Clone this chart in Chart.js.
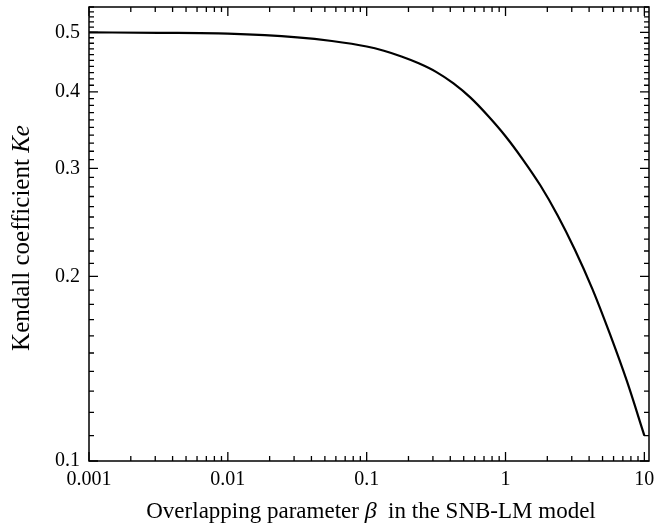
<!DOCTYPE html>
<html>
<head>
<meta charset="utf-8">
<script src="https://cdn.jsdelivr.net/npm/chart.js@4.4.0/dist/chart.umd.min.js"></script>
<style>
  html, body { margin: 0; padding: 0; background: #fff; }
  #wrap { width: 654px; height: 529px; }
</style>
</head>
<body>
<div id="wrap"><canvas id="kendallChart" width="654" height="529"></canvas></div>
<script>
// Kendall coefficient vs overlapping parameter (log-log)
const betaValues    = [0.001, 0.00316, 0.01, 0.0316, 0.0562, 0.1, 0.133, 0.178, 0.237, 0.316, 0.422, 0.562, 0.75,
                       1, 1.33, 1.78, 2.37, 3.16, 4.22, 5.62, 7.5, 10];
const kendallValues = [0.5000, 0.4992, 0.4976, 0.4908, 0.4841, 0.4742, 0.4666, 0.4567, 0.4452, 0.4311, 0.4128, 0.3910, 0.3653,
                       0.3386, 0.3105, 0.2816, 0.2517, 0.2211, 0.1909, 0.1616, 0.1348, 0.1100];

const xMajorTicks = [0.001, 0.01, 0.1, 1, 10];
const xTickLabels = ['0.001', '0.01', '0.1', '1', '10'];
const yMajorTicks = [0.1, 0.2, 0.3, 0.4, 0.5];
const yTickLabels = ['0.1', '0.2', '0.3', '0.4', '0.5'];

const xMin = 0.001, xMax = 10.8;
const yMin = 0.1, yMax = 0.55;

const serif = '"Liberation Serif", "Times New Roman", serif';

// minor tick positions: 2..9 per decade on x, every 0.01 on y
function xMinorTicks() {
    const out = [];
    for (let d = 0.001; d < xMax; d *= 10) {
        for (let m = 2; m <= 9; m++) {
            const v = +(d * m).toPrecision(3);
            if (v < xMax) out.push(v);
        }
    }
    return out;
}
function yMinorTicks() {
    const out = [];
    for (let i = 11; i <= 55; i++) {
        if (i % 10 !== 0) out.push(i / 100);
    }
    return out;
}

// frame, inward ticks on all four sides, tick labels and axis titles
const framePlugin = {
    id: 'frame',
    afterDraw(chart) {
        const { ctx, chartArea: a, scales } = chart;
        const xs = scales.x, ys = scales.y;
        ctx.save();
        ctx.strokeStyle = '#000';
        ctx.lineWidth = 1.5;
        ctx.strokeRect(a.left, a.top, a.right - a.left, a.bottom - a.top);

        ctx.lineWidth = 1.3;
        ctx.beginPath();
        const tickX = (v, len) => {
            const px = xs.getPixelForValue(v);
            ctx.moveTo(px, a.bottom); ctx.lineTo(px, a.bottom - len);
            ctx.moveTo(px, a.top); ctx.lineTo(px, a.top + len);
        };
        const tickY = (v, len) => {
            const py = ys.getPixelForValue(v);
            ctx.moveTo(a.left, py); ctx.lineTo(a.left + len, py);
            ctx.moveTo(a.right, py); ctx.lineTo(a.right - len, py);
        };
        xMajorTicks.forEach(v => tickX(v, 9));
        xMinorTicks().forEach(v => tickX(v, 5));
        yMajorTicks.forEach(v => tickY(v, 9));
        yMinorTicks().forEach(v => tickY(v, 5));
        ctx.stroke();

        ctx.fillStyle = '#000';
        ctx.font = '20px ' + serif;
        ctx.textAlign = 'center';
        ctx.textBaseline = 'top';
        xMajorTicks.forEach((v, i) => {
            ctx.fillText(xTickLabels[i], xs.getPixelForValue(v), a.bottom + 9);
        });
        ctx.textAlign = 'right';
        ctx.textBaseline = 'middle';
        yMajorTicks.forEach((v, i) => {
            ctx.fillText(yTickLabels[i], a.left - 9, ys.getPixelForValue(v));
        });

        // x title, with italic beta
        const xParts = [
            ['Overlapping parameter ', '23px ' + serif],
            ['\u03B2', 'italic 24px ' + serif],
            ['  in the SNB-LM model', '23px ' + serif]
        ];
        drawRun(ctx, xParts, 371, 512);

        // y title, with italic Ke
        const yParts = [
            ['Kendall coefficient ', '25px ' + serif],
            ['Ke', 'italic 25px ' + serif]
        ];
        ctx.save();
        ctx.translate(22, 238);
        ctx.rotate(-Math.PI / 2);
        drawRun(ctx, yParts, 0, 0);
        ctx.restore();
        ctx.restore();
    }
};

// draws a row of text pieces with their own fonts, centred on cx
function drawRun(ctx, parts, cx, cy) {
    let total = 0;
    parts.forEach(([t, f]) => { ctx.font = f; total += ctx.measureText(t).width; });
    let x = cx - total / 2;
    ctx.textAlign = 'left';
    ctx.textBaseline = 'middle';
    parts.forEach(([t, f]) => {
        ctx.font = f;
        ctx.fillText(t, x, cy);
        x += ctx.measureText(t).width;
    });
}

const ctx = document.getElementById('kendallChart').getContext('2d');
new Chart(ctx, {
    type: 'line',
    data: {
        datasets: [{
            data: betaValues.map((b, i) => ({ x: b, y: kendallValues[i] })),
            borderColor: '#000',
            borderWidth: 2.2,
            pointRadius: 0,
            fill: false,
            cubicInterpolationMode: 'monotone'
        }]
    },
    options: {
        responsive: false,
        animation: false,
        layout: { padding: { left: 89, right: 5, top: 7, bottom: 68 } },
        plugins: { legend: { display: false }, tooltip: { enabled: false } },
        scales: {
            x: { type: 'logarithmic', min: xMin, max: xMax, display: false },
            y: { type: 'logarithmic', min: yMin, max: yMax, display: false }
        }
    },
    plugins: [framePlugin]
});
</script>
</body>
</html>
